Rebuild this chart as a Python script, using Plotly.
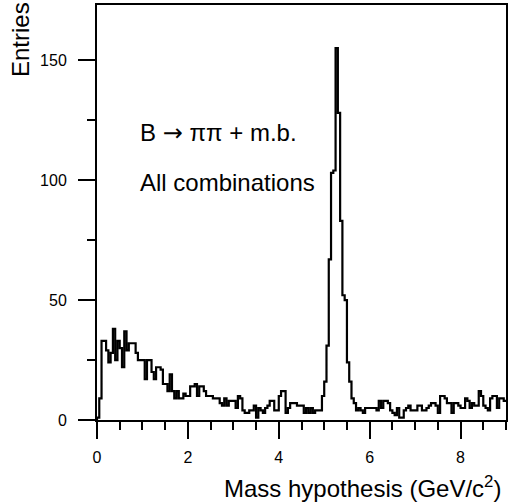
import numpy as np
import plotly.graph_objects as go

# Histogram: 180 bins of width 0.05 GeV/c^2 from 0 to 9
bin_low = 0.0
bin_width = 0.05
counts = [
    1, 9, 33, 33, 29, 24, 28, 38, 25, 33, 30, 22, 37, 29, 32, 32, 32, 28, 25, 25,
    25, 17, 25, 25, 20, 17, 22, 22, 21, 15, 15, 12, 19, 12, 9,
    12, 9, 9, 11, 10, 10, 14, 14, 15, 10, 14, 14, 12, 10, 10, 10, 9, 9, 9, 7,
    6, 9, 6, 8, 8, 8, 5, 10, 9, 4, 3, 3, 4, 4, 6, 1, 5,
    4, 3, 5, 6, 8, 8, 4, 4, 10, 12, 12, 3, 5, 7, 7, 7, 6, 6, 6, 3, 5, 3, 5, 3,
    4, 4, 4, 10, 16, 31, 67, 103, 104, 155, 128, 83, 52, 50, 24, 16, 9, 7, 4, 5,
    4, 3, 5, 5, 5, 5, 5, 4, 8, 5, 8, 8, 7, 4, 3, 2, 5, 1, 1, 4, 5, 6, 4, 4, 4,
    6, 6, 4,
    4, 5, 6, 7, 7, 6, 3, 10, 10, 9, 7, 7, 3, 7, 7, 6, 5, 5, 9, 8, 5, 7, 6, 6,
    12, 10, 6, 5, 4, 9, 10, 10, 5, 9, 9, 8,
]
x_ticks = [0, 2, 4, 6, 8]
y_ticks = [0, 50, 100, 150]
label_line1 = "B <span style=\"font-family:'DejaVu Sans'\">\u2192</span> \u03c0\u03c0 + m.b."
label_line2 = "All combinations"
x_title = "Mass hypothesis (GeV/c<sup>2</sup>)"
y_title = "Entries"

n = len(counts)
edges = bin_low + bin_width * np.arange(n + 1)
xs = np.concatenate([[edges[0]], edges])
ys = np.concatenate([[0], counts, [counts[-1]]])

fig = go.Figure()
fig.add_trace(go.Scatter(x=xs, y=ys, mode="lines", line=dict(shape="hv", color="black", width=2.2),
                         hoverinfo="skip", showlegend=False))

font_family = "Liberation Sans, Arial, Helvetica, sans-serif"
fig.update_layout(
    width=509, height=503,
    margin=dict(l=97, r=1, t=5, b=83),
    paper_bgcolor="white", plot_bgcolor="white",
    font=dict(family=font_family, color="black", size=16),
    showlegend=False,
)
fig.update_xaxes(
    range=[0, 9], tickvals=x_ticks, ticks="outside", ticklen=17, tickwidth=1.5, tickcolor="black",
    minor=dict(dtick=0.5, ticks="outside", ticklen=8, tickwidth=1.5, tickcolor="black", showgrid=False),
    showline=True, linecolor="black", linewidth=2, mirror=True, showgrid=False, zeroline=False,
    tickfont=dict(size=16), ticklabelstandoff=5,
)
fig.update_yaxes(
    range=[0, 173], tickvals=y_ticks, ticks="outside", ticklen=17, tickwidth=1.5, tickcolor="black",
    minor=dict(dtick=25, ticks="outside", ticklen=8, tickwidth=1.5, tickcolor="black", showgrid=False),
    showline=True, linecolor="black", linewidth=2, mirror=True, showgrid=False, zeroline=False,
    tickfont=dict(size=16), ticklabelstandoff=8,
)
fig.add_annotation(text=label_line1, x=0.9, y=119.6, xref="x", yref="y", xanchor="left",
                   yanchor="middle", showarrow=False, font=dict(size=24))
fig.add_annotation(text=label_line2, x=0.9, y=99, xref="x", yref="y", xanchor="left",
                   yanchor="middle", showarrow=False, font=dict(size=24))
fig.add_annotation(text=x_title, x=0.993, y=-0.161, xref="paper", yref="paper", xanchor="right",
                   yanchor="middle", showarrow=False, font=dict(size=24))
fig.add_annotation(text=y_title, x=-0.187, y=1.012, xref="paper", yref="paper", xanchor="center",
                   yanchor="top", textangle=-90, showarrow=False, font=dict(size=24))

fig.write_html("out.html", config={"displayModeBar": False},
               post_script="document.body.style.margin='0';document.body.style.overflow='hidden';")
